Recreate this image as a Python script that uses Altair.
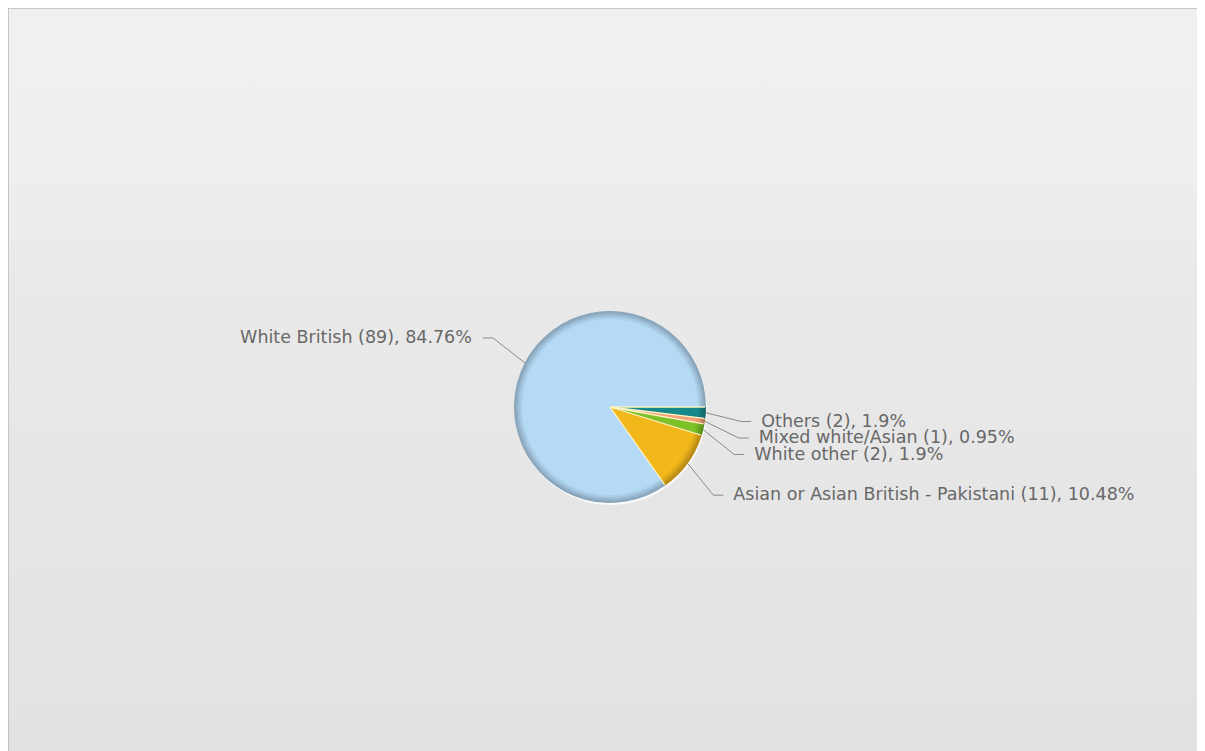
import math
import altair as alt
import pandas as pd

# ---- data ----
categories = ["Others", "Mixed white/Asian", "White other",
              "Asian or Asian British - Pakistani", "White British"]
counts = [2, 1, 2, 11, 89]
colors = ["#17898a", "#f3a375", "#7cc127", "#f2b81b", "#b5daf6"]

# ---- layout / style ----
W, H = 1189, 743
CX, CY = 602, 399
R = 96
R_LABEL = 150
SPACING = 16.5
LABEL_CLEAR = 14.5   # labels keep this far from the horizontal through the centre


def shade(hex_color, f):
    h = hex_color.lstrip("#")
    r, g, b = (int(h[i:i + 2], 16) for i in (0, 2, 4))
    return "#%02x%02x%02x" % (int(r * f), int(g * f), int(b * f))


rim_steps = [(R, 0.76), (R - 2, 0.82), (R - 4, 0.89), (R - 6, 0.95), (R - 8, 1.0)]

total = sum(counts)
pcts = [round(c / total * 100, 2) for c in counts]
labels = [f"{cat} ({c}), {('%g' % p)}%" for cat, c, p in zip(categories, counts, pcts)]

pie_df = pd.DataFrame({"category": categories, "count": counts,
                       "idx": list(range(len(categories)))})

# label layout computed from the data (mid angle of each slice)
mids, bounds = [], []
cum = 0
for c in counts:
    bounds.append(cum / total * 2 * math.pi)
    mids.append((cum + c / 2) / total * 2 * math.pi)  # clockwise from 3 o'clock
    cum += c

items = []
for i, a in enumerate(mids):
    side = "right" if math.cos(a) >= 0 else "left"
    y = CY + R_LABEL * math.sin(a)
    if side == "right" and y >= CY:
        y = max(y, CY + LABEL_CLEAR)
    items.append({"i": i, "a": a, "side": side, "y": y})

for side in ("right", "left"):
    grp = sorted([it for it in items if it["side"] == side], key=lambda d: d["y"])
    prev = None
    for it in grp:
        if prev is not None and it["y"] < prev + SPACING:
            it["y"] = prev + SPACING
        prev = it["y"]

label_rows, line_rows = [], []
for it in items:
    i, a, y = it["i"], it["a"], it["y"]
    dy = y - CY
    dx = math.sqrt(max(R_LABEL ** 2 - dy ** 2, 0))
    right = it["side"] == "right"
    sgn = 1 if right else -1
    x = CX + sgn * dx
    tx = x + 2 if right else x - 5
    label_rows.append({"label": labels[i], "x": tx, "y": y, "side": it["side"]})
    if right:
        pts = [(CX + R * math.cos(a), CY + R * math.sin(a)), (x - 18, y), (x - 8, y)]
    else:
        pts = [(CX + R * math.cos(a), CY + R * math.sin(a)), (x + 16, y), (x + 6, y)]
    for k, (px, py) in enumerate(pts):
        line_rows.append({"category": categories[i], "k": k, "x": px, "y": py})

sep_rows = []
for j, b in enumerate(bounds):
    sep_rows.append({"s": j, "k": 0, "x": CX, "y": CY})
    sep_rows.append({"s": j, "k": 1, "x": CX + (R - 1) * math.cos(b),
                     "y": CY + (R - 1) * math.sin(b)})

lab_df = pd.DataFrame(label_rows)
line_df = pd.DataFrame(line_rows)
sep_df = pd.DataFrame(sep_rows)

xs = alt.Scale(domain=[0, W], range=[0, W], nice=False, zero=False)
ys = alt.Scale(domain=[0, H], range=[0, H], nice=False, zero=False)
X = lambda: alt.X("x:Q", scale=xs, axis=None)
Y = lambda: alt.Y("y:Q", scale=ys, axis=None)

one = pd.DataFrame({"a": [0]})
bg = alt.Chart(one).mark_rect(
    color=alt.LinearGradient(
        gradient="linear", x1=0, x2=0, y1=0, y2=1,
        stops=[alt.GradientStop(offset=0, color="#f0f0f0"),
               alt.GradientStop(offset=0.236, color="#efefef"),
               alt.GradientStop(offset=0.240, color="#ededed"),
               alt.GradientStop(offset=0.310, color="#ececec"),
               alt.GradientStop(offset=0.315, color="#eaeaea"),
               alt.GradientStop(offset=1, color="#e2e2e2")]),
    strokeWidth=0
).encode(x=alt.value(0), x2=alt.value(W), y=alt.value(0), y2=alt.value(H))

border_left = alt.Chart(one).mark_rule(color="#b9b9b9", strokeWidth=1.5).encode(
    x=alt.value(0), y=alt.value(0), y2=alt.value(H))
border_top = alt.Chart(one).mark_rule(color="#b9b9b9", strokeWidth=1.5).encode(
    x=alt.value(0), x2=alt.value(W), y=alt.value(0))

theta = alt.Theta("count:Q", stack=True,
                  scale=alt.Scale(range=[math.pi / 2, math.pi / 2 + 2 * math.pi]))
order = alt.Order("idx:Q")


def arc_layer(rng, radius):
    return alt.Chart(pie_df).mark_arc(radius=radius).encode(
        theta=theta, order=order,
        color=alt.Color("category:N", scale=alt.Scale(domain=categories, range=rng),
                        legend=None),
        x=alt.value(CX), y=alt.value(CY))


halo = alt.Chart(pie_df).mark_arc(radius=R, color="#fbfbfb").encode(
    theta=theta, order=order, x=alt.value(CX + 1), y=alt.value(CY + 2))
pie_layers = [arc_layer([shade(c, f) for c in colors], r) for r, f in rim_steps]

seps = alt.Chart(sep_df).mark_line(color="#fff3c4", strokeWidth=1.3).encode(
    x=X(), y=Y(), detail="s:N", order="k:Q")

lines = alt.Chart(line_df).mark_line(color="#8a8a8a", strokeWidth=1).encode(
    x=X(), y=Y(), detail="category:N", order="k:Q")

text_common = dict(font="DejaVu Sans", fontSize=17.5, color="#686868", baseline="middle")
right_txt = alt.Chart(lab_df).transform_filter(alt.datum.side == "right").mark_text(
    align="left", **text_common).encode(x=X(), y=Y(), text="label:N")
left_txt = alt.Chart(lab_df).transform_filter(alt.datum.side == "left").mark_text(
    align="right", **text_common).encode(x=X(), y=Y(), text="label:N")

chart = alt.layer(bg, border_left, border_top, halo, *pie_layers, seps,
                  lines, right_txt, left_txt).properties(
    width=W, height=H, padding=0, autosize=alt.AutoSizeParams(type="none")
).configure_view(stroke=None).resolve_scale(color="independent")

chart.save("out.html", embed_options={"renderer": "svg", "actions": False})
